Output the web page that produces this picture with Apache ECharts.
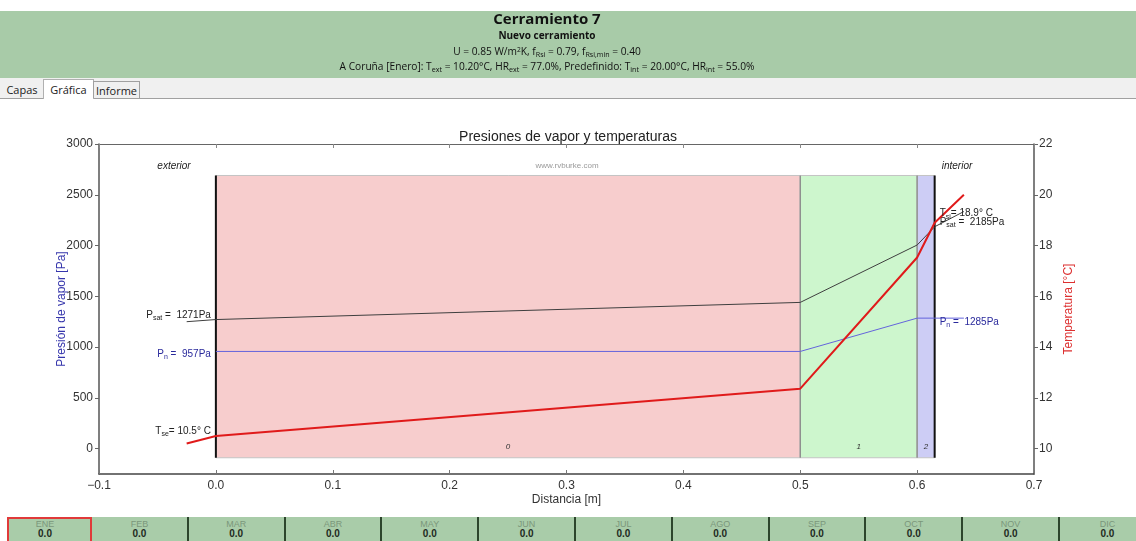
<!DOCTYPE html>
<html lang="es">
<head>
<meta charset="UTF-8">
<title>Cerramiento 7 - Presiones de vapor y temperaturas</title>
<script src="https://cdn.jsdelivr.net/npm/echarts@6.0.0/dist/echarts.min.js"></script>
<style>
  html, body { margin: 0; padding: 0; background: #fff; }
  body { width: 1136px; height: 541px; position: relative; overflow: hidden; font-family: 'Open Sans', 'Noto Sans', sans-serif; }
  #chart { position: absolute; left: 0; top: 0; width: 1136px; height: 541px; }
  #header { position: absolute; left: 0; top: 11px; width: 1136px; height: 67px; background: #a8cba8; color: #111; z-index: 2; }
  #header div { position: absolute; left: 0; width: 1094px; text-align: center; white-space: nowrap; }
  #header sub { font-size: 70%; vertical-align: -2px; line-height: 0; }
  #header sup { font-size: 65%; vertical-align: 3px; line-height: 0; }
  .h1 { top: -3px; font-size: 15px; font-weight: bold; line-height: 20px; }
  .h2 { top: 17px; font-size: 10px; font-weight: bold; line-height: 14px; }
  .h3 { top: 33px; font-size: 10.2px; line-height: 14px; }
  .h4 { top: 48px; font-size: 10.2px; line-height: 14px; }
  #tabs { position: absolute; left: 0; top: 78px; width: 1136px; height: 20px; background: #f0f0f0; border-bottom: 1px solid #a0a0a0; z-index: 2; }
  .tab { position: absolute; top: 3px; height: 17px; font-size: 11px; line-height: 17px; color: #222; box-sizing: border-box; text-align: center; }
  .tab.sel { top: 1px; height: 20px; background: #fff; border: 1px solid #b0b0b0; border-bottom: none; line-height: 19px; }
  .tab.box { border: 1px solid #a0a0a0; border-bottom: none; }
  #months { position: absolute; left: 7px; top: 517px; width: 1129px; height: 24px; background: #a9cca9; z-index: 2; }
  .cell { position: absolute; top: 0; height: 24px; text-align: center; font-family: 'Liberation Sans', Arial, sans-serif; }
  .cell .mn { display: block; font-size: 9px; line-height: 10px; margin-top: 2px; color: #7b977b; }
  .cell .mv { display: block; font-size: 10px; line-height: 10px; font-weight: bold; color: #1e2a1e; }
  .sep { position: absolute; top: 0; width: 2px; height: 24px; background: #2c452c; }
  .selbox { position: absolute; top: 0; height: 24px; box-sizing: border-box; border: 2px solid #e03a3a; border-bottom: none; }
</style>
</head>
<body>
<div id="chart"></div>
<div id="header">
  <div class="h1">Cerramiento 7</div>
  <div class="h2">Nuevo cerramiento</div>
  <div class="h3">U = 0.85 W/m<sup>2</sup>K, f<sub>Rsi</sub> = 0.79, f<sub>Rsi,min</sub> = 0.40</div>
  <div class="h4">A Coruña [Enero]: T<sub>ext</sub> = 10.20°C, HR<sub>ext</sub> = 77.0%, Predefinido: T<sub>int</sub> = 20.00°C, HR<sub>int</sub> = 55.0%</div>
</div>
<div id="tabs">
  <div class="tab" style="left:3px;width:38px;">Capas</div>
  <div class="tab sel" style="left:43px;width:51px;">Gráfica</div>
  <div class="tab box" style="left:93px;width:47px;">Informe</div>
</div>
<div id="months"></div>

<script>
  // Perfil a través del cerramiento (posición en m)
  const distance = [-0.025, 0.0, 0.5, 0.6, 0.615, 0.64];
  const temperature = [10.2, 10.5, 12.36, 17.53, 18.9, 20.0];
  const satPressure = [1250, 1271, 1440, 2005, 2185, 2335];
  const vapourPressure = [null, 957, 957, 1285, 1285, 1285];

  // Capas del cerramiento
  const layerStart = [0.0, 0.5, 0.6];
  const layerEnd = [0.5, 0.6, 0.615];
  const layerLabels = ['0', '1', '2'];

  // Marcas de los ejes
  const pressureTicks = [0, 500, 1000, 1500, 2000, 2500, 3000];
  const temperatureTicks = [10, 12, 14, 16, 18, 20, 22];

  // Barra de meses
  const months = ['ENE', 'FEB', 'MAR', 'ABR', 'MAY', 'JUN', 'JUL', 'AGO', 'SEP', 'OCT', 'NOV', 'DIC'];
  const monthValues = [0.0, 0.0, 0.0, 0.0, 0.0, 0.0, 0.0, 0.0, 0.0, 0.0, 0.0, 0.0];

  // barra inferior
  const bar = document.getElementById('months');
  const cellW = 96.8, firstEdge = 84; // relativo a la barra (x=7)
  months.forEach((m, i) => {
    const left = i === 0 ? -8 : firstEdge + cellW * (i - 1);
    const w = i === 0 ? firstEdge + 8 : cellW;
    const c = document.createElement('div');
    c.className = 'cell';
    c.style.left = left + 'px';
    c.style.width = w + 'px';
    c.innerHTML = '<span class="mn">' + m + '</span><span class="mv">' + monthValues[i].toFixed(1) + '</span>';
    bar.appendChild(c);
    if (i >= 2) {
      const s = document.createElement('div');
      s.className = 'sep';
      s.style.left = (left - 1) + 'px';
      bar.appendChild(s);
    }
  });
  const sel = document.createElement('div');
  sel.className = 'selbox';
  sel.style.left = '0px';
  sel.style.width = (firstEdge + 1) + 'px';
  bar.appendChild(sel);

  const FONT = "'Liberation Sans', Arial, sans-serif";
  const BAND_TOP = 2690, BAND_BOTTOM = -90;
  const layerColors = ['#f7cdcd', '#cdf6cd', '#cdcdf5'];

  const chart = echarts.init(document.getElementById('chart'));

  const subRich = (color) => ({
    a: { fontSize: 10, color: color, fontFamily: FONT },
    b: { fontSize: 7, color: color, fontFamily: FONT, padding: [6, 0, 0, 0] }
  });

  function withLabels(values, labels) {
    return distance.map((d, i) => {
      const item = { value: [d, values[i]] };
      if (labels[i]) item.label = Object.assign({ show: true }, labels[i]);
      return item;
    }).filter(it => it.value[1] !== null);
  }

  const satLabels = {
    1: { position: 'left', distance: 5, offset: [0, -4], formatter: '{a|P}{b|sat}{a| =  ' + satPressure[1] + 'Pa}', rich: subRich('#222') },
    4: { position: 'right', distance: 5, offset: [0, -5], formatter: '{a|P}{b|sat}{a| =  ' + satPressure[4] + 'Pa}', rich: subRich('#222') }
  };
  const vapLabels = {
    1: { position: 'left', distance: 5, offset: [0, 3], formatter: '{a|P}{b|n}{a| =  ' + vapourPressure[1] + 'Pa}', rich: subRich('#2a2a9c') },
    4: { position: 'right', distance: 5, offset: [0, 4], formatter: '{a|P}{b|n}{a| =  ' + vapourPressure[4] + 'Pa}', rich: subRich('#2a2a9c') }
  };
  const tempLabels = {
    1: { position: 'left', distance: 5, offset: [0, -5], formatter: '{a|T}{b|se}{a|= ' + temperature[1].toFixed(1) + '° C}', rich: subRich('#222') },
    4: { position: 'right', distance: 5, offset: [0, -9], formatter: '{a|T}{b|si}{a|= ' + temperature[4].toFixed(1) + '° C}', rich: subRich('#222') }
  };

  const axisText = { color: '#333', fontSize: 12, fontFamily: FONT };

  const option = {
    animation: false,
    title: {
      text: 'Presiones de vapor y temperaturas',
      left: 'center',
      top: 125,
      textStyle: { color: '#222', fontSize: 14, fontWeight: 'normal', fontFamily: FONT }
    },
    grid: { left: 99, right: 102, top: 144, bottom: 67 },
    xAxis: [
      {
        type: 'value', min: -0.1, max: 0.7, interval: 0.1, position: 'bottom',
        axisLine: { onZero: false, lineStyle: { color: '#444', width: 1.5 } },
        axisTick: { inside: true, length: 4, lineStyle: { color: '#777' } },
        axisLabel: Object.assign({ margin: 6, formatter: v => (v < 0 ? '\u2212' : '') + Math.abs(v).toFixed(1) }, axisText),
        splitLine: { show: false },
        name: 'Distancia [m]', nameLocation: 'middle', nameGap: 20, nameMoveOverlap: false,
        nameTextStyle: axisText
      },
      {
        type: 'value', min: -0.1, max: 0.7, interval: 0.1, position: 'top',
        axisLine: { onZero: false, lineStyle: { color: '#666', width: 1.2 } },
        axisTick: { inside: true, length: 4, lineStyle: { color: '#888' } },
        axisLabel: { show: false },
        splitLine: { show: false }
      }
    ],
    yAxis: [
      {
        type: 'value', min: -250, max: 3000, position: 'left',
        axisLine: { show: true, onZero: false, lineStyle: { color: '#555', width: 1.5 } },
        axisTick: { show: true, length: 4, customValues: pressureTicks, lineStyle: { color: '#666' } },
        axisLabel: Object.assign({ margin: 6, customValues: pressureTicks, formatter: v => String(v) }, axisText),
        splitLine: { show: false },
        name: 'Presión de vapor [Pa]', nameLocation: 'middle', nameGap: 31, nameMoveOverlap: false,
        nameTextStyle: { color: '#3636ac', fontSize: 12, fontFamily: FONT }
      },
      {
        type: 'value', min: 9, max: 22, position: 'right',
        axisLine: { show: true, onZero: false, lineStyle: { color: '#555', width: 1.5 } },
        axisTick: { show: true, length: 4, customValues: temperatureTicks, lineStyle: { color: '#666' } },
        axisLabel: Object.assign({ margin: 5, customValues: temperatureTicks, formatter: v => String(v) }, axisText),
        splitLine: { show: false },
        name: 'Temperatura [°C]', nameLocation: 'middle', nameGap: 29, nameMoveOverlap: false,
        nameTextStyle: { color: '#dd3030', fontSize: 12, fontFamily: FONT }
      }
    ],
    graphic: [
      { type: 'text', x: 174, y: 166, style: { text: 'exterior', font: 'italic 10px ' + FONT, fill: '#222', align: 'center', verticalAlign: 'middle' } },
      { type: 'text', x: 957, y: 166, style: { text: 'interior', font: 'italic 10px ' + FONT, fill: '#222', align: 'center', verticalAlign: 'middle' } },
      { type: 'text', x: 567, y: 166, style: { text: 'www.rvburke.com', font: '8px ' + FONT, fill: '#9a9a9a', align: 'center', verticalAlign: 'middle' } }
    ],
    series: [
      {
        type: 'custom', z: 1, silent: true,
        xAxisIndex: 0, yAxisIndex: 0,
        data: layerStart.map((s, i) => [s, layerEnd[i], i]),
        renderItem: function (params, api) {
          const x0 = api.value(0), x1 = api.value(1), i = api.value(2);
          const tl = api.coord([x0, BAND_TOP]);
          const br = api.coord([x1, BAND_BOTTOM]);
          const children = [
            { type: 'rect', shape: { x: tl[0], y: tl[1], width: br[0] - tl[0], height: br[1] - tl[1] },
              style: { fill: layerColors[i], stroke: '#c4c4c4', lineWidth: 1 } },
            { type: 'line', shape: { x1: tl[0], y1: tl[1], x2: tl[0], y2: br[1] },
              style: { stroke: i === 0 ? '#111' : '#8a8a8a', lineWidth: i === 0 ? 2 : 1.3 } },
            { type: 'text', x: (tl[0] + br[0]) / 2, y: br[1] - 11,
              style: { text: layerLabels[i], font: 'italic 8px ' + FONT, fill: '#333', align: 'center', verticalAlign: 'middle' } }
          ];
          if (i === layerStart.length - 1) {
            children.push({ type: 'line', shape: { x1: br[0], y1: tl[1], x2: br[0], y2: br[1] },
              style: { stroke: '#111', lineWidth: 2 } });
          }
          return { type: 'group', children: children };
        }
      },
      {
        name: 'Psat', type: 'line', z: 3, yAxisIndex: 0,
        data: withLabels(satPressure, satLabels),
        symbol: 'circle', symbolSize: 0, showSymbol: true,
        lineStyle: { color: '#3f3f3f', width: 1 }, itemStyle: { color: '#3f3f3f' }
      },
      {
        name: 'Pn', type: 'line', z: 3, yAxisIndex: 0,
        data: withLabels(vapourPressure, vapLabels),
        symbol: 'circle', symbolSize: 0, showSymbol: true,
        lineStyle: { color: '#6464dc', width: 1 }, itemStyle: { color: '#6464dc' }
      },
      {
        name: 'T', type: 'line', z: 4, yAxisIndex: 1,
        data: withLabels(temperature, tempLabels),
        symbol: 'circle', symbolSize: 0, showSymbol: true,
        lineStyle: { color: '#e01a1a', width: 2 }, itemStyle: { color: '#e01a1a' }
      }
    ]
  };

  chart.setOption(option);
</script>
</body>
</html>
